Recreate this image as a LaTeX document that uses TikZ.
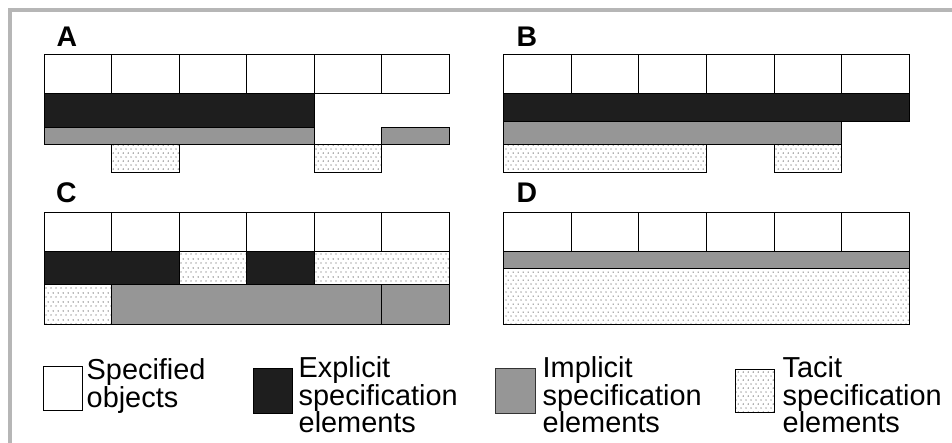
\documentclass[tikz,border=0pt]{standalone}
\usepackage{fontspec}
\setmainfont{Liberation Sans}
\usetikzlibrary{patterns}
\pgfdeclarepatternformonly{tacitdots}{\pgfqpoint{0bp}{0bp}}{\pgfqpoint{5bp}{8.4bp}}{\pgfqpoint{5bp}{8.4bp}}{%
  \pgfpathcircle{\pgfqpoint{1.25bp}{2.1bp}}{0.75bp}%
  \pgfpathcircle{\pgfqpoint{3.75bp}{6.3bp}}{0.75bp}%
  \pgfusepath{fill}}
\definecolor{explc}{RGB}{30,30,30}
\definecolor{implc}{RGB}{150,150,150}
\definecolor{framec}{RGB}{182,182,182}
\definecolor{dotc}{RGB}{95,95,95}
\tikzset{
  cell/.style={draw=black, fill=white, line width=1bp},
  explf/.style={draw=black, fill=explc, line width=1bp},
  implf/.style={draw=black, fill=implc, line width=1bp},
  tacf/.style={preaction={fill=white}, pattern=tacitdots, pattern color=dotc, draw=black, line width=1bp},
  lab/.style={font=\fontsize{28.5}{28.5}\selectfont\bfseries, inner sep=0pt, anchor=base west},
  leg/.style={font=\fontsize{29}{27}\selectfont, inner sep=0pt, anchor=base west}
}
\begin{document}
\begin{tikzpicture}[x=1bp, y=-1bp]
\useasboundingbox (0,0) rectangle (952,443);
\fill[white] (0,0) rectangle (952,443);
% frame
\fill[framec] (8,8) rectangle (952,12);
\fill[framec] (8,8) rectangle (12,443);
% labels
\node[lab] (la) at (56.5,47) {A};
\node[lab] (lb) at (516.5,47) {B};
\node[lab] (lc) at (56,203) {C};
\node[lab] (ld) at (516.5,203) {D};
% cells
\foreach \i in {0,...,5} {
  \draw[cell] ({44+67.5*\i},54.3) rectangle ({44+67.5*(\i+1)},94);
  \draw[cell] ({503.7+67.6*\i},54.3) rectangle ({503.7+67.6*(\i+1)},94);
  \draw[cell] ({44+67.5*\i},212.3) rectangle ({44+67.5*(\i+1)},251.3);
  \draw[cell] ({503.7+67.6*\i},212.3) rectangle ({503.7+67.6*(\i+1)},251.3);
}
% A
\draw[explf] (44,94) rectangle (314,127.3);
\draw[implf] (44,127.3) rectangle (314,144.3);
\draw[implf] (381.5,127.3) rectangle (449,144.3);
\draw[tacf] (111.5,144.3) rectangle (179,172.7);
\draw[tacf] (314,144.3) rectangle (381.5,172.7);
% B
\draw[explf] (503.7,94) rectangle (909.3,121.7);
\draw[implf] (503.7,121.7) rectangle (841.7,144.3);
\draw[tacf] (503.7,144.3) rectangle (706.5,172.7);
\draw[tacf] (774.1,144.3) rectangle (841.7,172.7);
% C
\draw[explf] (44,251.3) rectangle (179,284.7);
\draw[tacf] (179,251.3) rectangle (246.5,284.7);
\draw[explf] (246.5,251.3) rectangle (314,284.7);
\draw[tacf] (314,251.3) rectangle (449,284.7);
\draw[tacf] (44,284.7) rectangle (111.5,324.3);
\draw[implf] (111.5,284.7) rectangle (381.5,324.3);
\draw[implf] (381.5,284.7) rectangle (449,324.3);
% D
\draw[implf] (503.7,251.3) rectangle (909.3,268.3);
\draw[tacf] (503.7,268.3) rectangle (909.3,324.3);
% legend
\draw[cell] (43.3,366.7) rectangle (82.7,411);
\node[leg] (l1a) at (86.5,380) {Specified};
\node[leg] (l1b) at (86.5,407) {objects};
\draw[explf] (253.3,368.3) rectangle (292.7,413.3);
\node[leg] (l2a) at (298.5,378) {Explicit};
\node[leg] (l2b) at (298.5,405) {specification};
\node[leg] (l2c) at (298.5,432) {elements};
\draw[implf, draw=black!80] (495.3,368.3) rectangle (535.3,413.3);
\node[leg] (l3a) at (542.5,378) {Implicit};
\node[leg] (l3b) at (542.5,405) {specification};
\node[leg] (l3c) at (542.5,432) {elements};
\draw[tacf] (735,369.3) rectangle (774.3,412.7);
\node[leg] (l4a) at (782.5,378) {Tacit};
\node[leg] (l4b) at (782.5,405) {specification};
\node[leg] (l4c) at (782.5,432) {elements};
\end{tikzpicture}
\end{document}
